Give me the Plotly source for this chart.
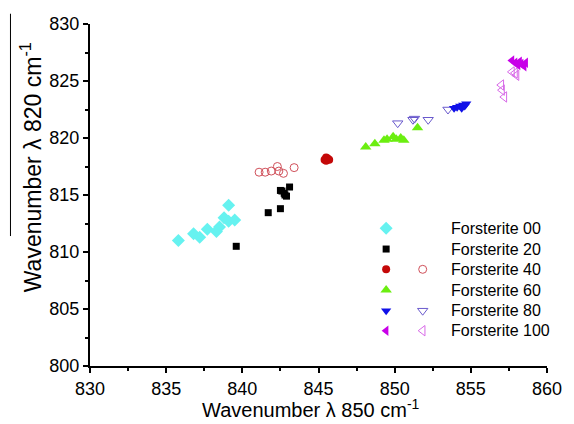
import plotly.graph_objects as go

# ---------------- data ----------------
fo00_x = [835.8, 836.8, 837.2, 837.7, 838.3, 838.5, 838.8, 839.1, 839.5, 839.1]
fo00_y = [811.0, 811.6, 811.3, 812.0, 811.8, 812.2, 813.0, 812.7, 812.8, 814.1]

fo20_x = [839.6, 841.7, 842.5, 842.6, 842.9, 843.1, 842.75, 842.5, 842.8]
fo20_y = [810.5, 813.45, 813.8, 815.35, 814.9, 815.7, 815.15, 815.4, 815.0]

fo40_x = [845.4, 845.5, 845.6, 845.7, 845.5]
fo40_y = [818.1, 818.3, 818.2, 818.1, 818.0]
fo40o_x = [841.1, 841.5, 841.9, 842.3, 842.4, 842.7, 843.4]
fo40o_y = [817.0, 817.0, 817.1, 817.5, 817.1, 816.9, 817.4]

fo60_x = [848.1, 848.7, 849.3, 849.5, 849.9, 850.1, 850.4, 850.6, 851.5]
fo60_y = [819.2, 819.5, 819.8, 819.9, 820.1, 819.9, 820.0, 819.8, 820.9]

fo80_x = [853.9, 854.1, 854.3, 854.4, 854.5, 854.6, 854.7]
fo80_y = [822.6, 822.7, 822.8, 822.6, 822.9, 822.8, 823.0]
fo80o_x = [850.2, 851.3, 852.2, 853.5, 851.2]
fo80o_y = [821.3, 821.7, 821.6, 822.5, 821.6]

fo100_x = [857.7, 857.9, 858.1, 858.3, 858.5, 858.6, 858.2]
fo100_y = [826.8, 826.6, 826.4, 826.5, 826.3, 826.6, 826.7]
fo100o_x = [857.7, 857.9, 858.0, 857.0, 857.05, 857.2]
fo100o_y = [825.8, 825.7, 825.5, 824.65, 824.2, 823.6]

legend_labels = ["Forsterite 00", "Forsterite 20", "Forsterite 40",
                 "Forsterite 60", "Forsterite 80", "Forsterite 100"]

x_ticks = [830, 835, 840, 845, 850, 855, 860]
y_ticks = [800, 805, 810, 815, 820, 825, 830]

# ---------------- styles ----------------
C_CYAN = "#66F2F0"
C_BLACK = "#000000"
C_RED = "#C40808"
C_RED_O = "#D0505A"
C_GREEN = "#6BEE10"
C_BLUE = "#1010E8"
C_BLUE_O = "#6A5ACD"
C_MAG = "#C800E8"
C_MAG_O = "#D86AE8"

FONT = "Arial, Liberation Sans, sans-serif"

series = [
    (fo00_x, fo00_y, "diamond", 10, C_CYAN, True),
    (fo20_x, fo20_y, "square", 7, C_BLACK, True),
    (fo40o_x, fo40o_y, "circle-open", 8, C_RED_O, False),
    (fo40_x, fo40_y, "circle", 8, C_RED, True),
    (fo60_x, fo60_y, "triangle-up", 10, C_GREEN, True),
    (fo80o_x, fo80o_y, "triangle-down-open", 9, C_BLUE_O, False),
    (fo80_x, fo80_y, "triangle-down", 9, C_BLUE, True),
    (fo100o_x, fo100o_y, "triangle-left-open", 9, C_MAG_O, False),
    (fo100_x, fo100_y, "triangle-left", 9, C_MAG, True),
]

fig = go.Figure()
for xs, ys, sym, sz, col, filled in series:
    fig.add_trace(go.Scatter(
        x=xs, y=ys, mode="markers", showlegend=False,
        marker=dict(symbol=sym, size=sz, color=col,
                    line=dict(width=1 if not filled else 0, color=col)),
    ))

# ---------------- custom legend (overlay axes spanning the plot area) ----------------
leg_rows = [0.4026, 0.342, 0.2827, 0.222, 0.1617, 0.1032]
leg_filled = [("diamond", 10, C_CYAN), ("square", 7, C_BLACK), ("circle", 8, C_RED),
              ("triangle-up", 10, C_GREEN), ("triangle-down", 9, C_BLUE),
              ("triangle-left", 9, C_MAG)]
leg_open = [None, None, ("circle-open", 8, C_RED_O), None,
            ("triangle-down-open", 9, C_BLUE_O), ("triangle-left-open", 9, C_MAG_O)]
x_fill, x_open, x_text = 0.648, 0.728, 0.786

for i, (sym, sz, col) in enumerate(leg_filled):
    fig.add_trace(go.Scatter(x=[x_fill], y=[leg_rows[i]], xaxis="x2", yaxis="y2",
                             mode="markers", showlegend=False, hoverinfo="skip",
                             marker=dict(symbol=sym, size=sz, color=col, line=dict(width=0))))
    if leg_open[i] is not None:
        s2, z2, c2 = leg_open[i]
        fig.add_trace(go.Scatter(x=[x_open], y=[leg_rows[i]], xaxis="x2", yaxis="y2",
                                 mode="markers", showlegend=False, hoverinfo="skip",
                                 marker=dict(symbol=s2, size=z2, color=c2,
                                             line=dict(width=1, color=c2))))
    fig.add_annotation(x=x_text, y=leg_rows[i], xref="paper", yref="paper",
                       text=legend_labels[i], showarrow=False, xanchor="left",
                       yanchor="middle", font=dict(family=FONT, size=16, color="black"))

# axis titles
fig.add_annotation(x=-0.13, y=0.58, xref="paper", yref="paper",
                   text="Wavenumber λ 820 cm<sup>-1</sup>", textangle=-90,
                   showarrow=False, xanchor="center", yanchor="middle",
                   font=dict(family=FONT, size=23, color="black"))
fig.add_annotation(x=0.483, y=-0.123, xref="paper", yref="paper",
                   text="Wavenumber λ 850 cm<sup>-1</sup>",
                   showarrow=False, xanchor="center", yanchor="middle",
                   font=dict(family=FONT, size=20, color="black"))

# stray overline artefact next to the y title
fig.add_shape(type="line", xref="paper", yref="paper",
              x0=-0.174, x1=-0.174, y0=1.03, y1=0.38,
              line=dict(color="black", width=1))

axis_common = dict(
    showgrid=False, zeroline=False, showline=True, linewidth=2, linecolor="black",
    ticks="outside", ticklen=5, tickwidth=2, tickcolor="black",
    tickfont=dict(family=FONT, size=18, color="black"),
    minor=dict(ticks="outside", ticklen=3, tickwidth=1.5, tickcolor="black", dtick=2.5),
)

fig.update_layout(
    width=574, height=424,
    margin=dict(l=90, r=18, t=24, b=58),
    paper_bgcolor="white", plot_bgcolor="white",
    showlegend=False,
    xaxis=dict(range=[830, 860], tickvals=x_ticks, **axis_common),
    yaxis=dict(range=[800, 830], tickvals=y_ticks, **axis_common),
    xaxis2=dict(overlaying="x", range=[0, 1], visible=False),
    yaxis2=dict(overlaying="y", range=[0, 1], visible=False),
)

fig.write_html("out.html")
